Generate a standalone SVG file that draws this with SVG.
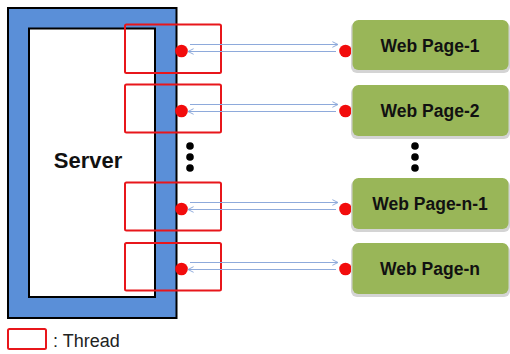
<svg xmlns="http://www.w3.org/2000/svg" width="510" height="354" viewBox="0 0 510 354">
<defs>
<style>
.thread{fill:none;stroke:#e8161b;stroke-width:2}
.dot{fill:#f20c0c}
.vdot{fill:#000}
.link{stroke:#8eaadb;stroke-width:1.2;fill:none}
.page{fill:#99b658}
.shadow{fill:#d4d4d4}
.ptxt{font-family:"Liberation Sans",Arial,sans-serif;font-weight:bold;font-size:17.5px;fill:#111;text-anchor:middle}
</style>
<marker id="ah" viewBox="0 0 10 10" refX="9" refY="5" markerWidth="7" markerHeight="7" markerUnits="userSpaceOnUse" orient="auto-start-reverse">
<path d="M1,1 L9,5 L1,9" fill="none" stroke="#8eaadb" stroke-width="1.4"/>
</marker>
</defs>
<rect width="510" height="354" fill="#fff"/>
<g id="server">
<rect x="8" y="8" width="168.5" height="310" fill="#5a8fd8" stroke="#000" stroke-width="2"/>
<rect x="29" y="28.5" width="126" height="268.5" fill="#fff" stroke="#000" stroke-width="2"/>
<text x="88" y="168" font-family="Liberation Sans,Arial,sans-serif" font-weight="bold" font-size="22" fill="#111" text-anchor="middle">Server</text>
</g>
<g id="threads">
<rect class="thread" x="125" y="24.5" width="96" height="48.5" rx="1.5"/>
<rect class="thread" x="125" y="84.5" width="96" height="48" rx="1.5"/>
<rect class="thread" x="125" y="182.5" width="96" height="48" rx="1.5"/>
<rect class="thread" x="125" y="243" width="96" height="47.5" rx="1.5"/>
</g>
<g id="connectors">
<line class="link" x1="190" y1="44.5" x2="338" y2="44.5" marker-end="url(#ah)"/>
<line class="link" x1="188" y1="51.5" x2="336" y2="51.5" marker-start="url(#ah)"/>
<line class="link" x1="190" y1="104.5" x2="338" y2="104.5" marker-end="url(#ah)"/>
<line class="link" x1="188" y1="111.5" x2="336" y2="111.5" marker-start="url(#ah)"/>
<line class="link" x1="190" y1="202.5" x2="338" y2="202.5" marker-end="url(#ah)"/>
<line class="link" x1="188" y1="209.5" x2="336" y2="209.5" marker-start="url(#ah)"/>
<line class="link" x1="190" y1="262.5" x2="338" y2="262.5" marker-end="url(#ah)"/>
<line class="link" x1="188" y1="269.5" x2="336" y2="269.5" marker-start="url(#ah)"/>
</g>
<g id="dots">
<circle class="dot" cx="181.5" cy="51" r="6.3"/>
<circle class="dot" cx="181.5" cy="111" r="6.3"/>
<circle class="dot" cx="181.5" cy="209" r="6.3"/>
<circle class="dot" cx="181.5" cy="269" r="6.3"/>
<circle class="dot" cx="345.5" cy="51" r="6.3"/>
<circle class="dot" cx="345.5" cy="111" r="6.3"/>
<circle class="dot" cx="345.5" cy="209" r="6.3"/>
<circle class="dot" cx="345.5" cy="269" r="6.3"/>
<circle class="vdot" cx="190" cy="146" r="3.8"/>
<circle class="vdot" cx="190" cy="157" r="3.8"/>
<circle class="vdot" cx="190" cy="168" r="3.8"/>
<circle class="vdot" cx="415" cy="146" r="3.8"/>
<circle class="vdot" cx="415" cy="157" r="3.8"/>
<circle class="vdot" cx="415" cy="168" r="3.8"/>
</g>
<g id="page1">
<rect class="shadow" x="351" y="22" width="159" height="51" rx="6"/>
<rect class="page" x="352.5" y="20" width="156" height="50" rx="6"/>
<text class="ptxt" x="430" y="52">Web Page-1</text>
</g>
<g id="page2">
<rect class="shadow" x="351" y="87" width="159" height="52" rx="6"/>
<rect class="page" x="352.5" y="85" width="156" height="51" rx="6"/>
<text class="ptxt" x="430" y="117">Web Page-2</text>
</g>
<g id="pagen1">
<rect class="shadow" x="351" y="180" width="159" height="52" rx="6"/>
<rect class="page" x="352.5" y="178" width="156" height="51" rx="6"/>
<text class="ptxt" x="430" y="210">Web Page-n-1</text>
</g>
<g id="pagen">
<rect class="shadow" x="351" y="245" width="159" height="52" rx="6"/>
<rect class="page" x="352.5" y="243" width="156" height="51" rx="6"/>
<text class="ptxt" x="430" y="275">Web Page-n</text>
</g>
<g id="legend">
<rect class="thread" x="8" y="329" width="38" height="20" rx="1.5"/>
<text x="53" y="347" font-family="Liberation Sans,Arial,sans-serif" font-size="18" fill="#222">: Thread</text>
</g>
</svg>
